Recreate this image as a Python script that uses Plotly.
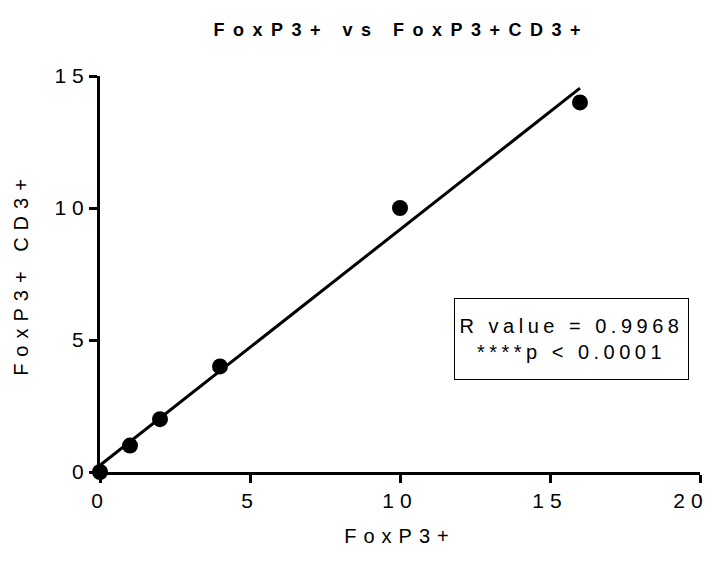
import numpy as np
import plotly.graph_objects as go

# Data
x_vals = [0, 1, 2, 4, 10, 16]
y_vals = [0, 1, 2, 4, 10, 14]
title_text = "FoxP3+ vs FoxP3+CD3+"
x_title = "FoxP3+"
y_title = "FoxP3+ CD3+"
r_value = "0.9968"
p_text = "****p &lt; 0.0001"
x_ticks = [0, 5, 10, 15, 20]
y_ticks = [0, 5, 10, 15]

slope, intercept = np.polyfit(x_vals, y_vals, 1)
fit_x = [min(x_vals), max(x_vals)]
fit_y = [slope * v + intercept for v in fit_x]

FONT = "Liberation Sans, Arial, sans-serif"

fig = go.Figure()
fig.add_trace(go.Scatter(x=fit_x, y=fit_y, mode="lines",
                         line=dict(color="black", width=3),
                         showlegend=False, hoverinfo="skip", cliponaxis=False))
fig.add_trace(go.Scatter(x=x_vals, y=y_vals, mode="markers",
                         marker=dict(color="black", size=16),
                         showlegend=False, cliponaxis=False))

fig.update_layout(
    width=711, height=562,
    margin=dict(l=100, r=11, t=76, b=90, autoexpand=False),
    plot_bgcolor="white", paper_bgcolor="white",
    font=dict(family=FONT, color="black", size=20),
    title=dict(text="<b>" + title_text + "</b>", xref="paper", x=0.502,
               xanchor="center", y=0.947, yanchor="middle",
               font=dict(family=FONT, size=18, color="black")),
    xaxis=dict(range=[0, 20], tickvals=x_ticks, showline=True, linewidth=3,
               linecolor="black", ticks="outside", ticklen=8, tickwidth=3,
               tickcolor="black", showgrid=False, zeroline=False,
               ticklabeloverflow="allow", automargin=False,
               tickfont=dict(size=21), title=dict(text=x_title, standoff=18,
                                                   font=dict(size=20))),
    yaxis=dict(range=[0, 15], tickvals=y_ticks, showline=True, linewidth=3,
               linecolor="black", ticks="outside", ticklen=8, tickwidth=3,
               tickcolor="black", showgrid=False, zeroline=False,
               ticklabeloverflow="allow", automargin=False,
               tickfont=dict(size=21), title=dict(text=y_title, standoff=28,
                                                   font=dict(size=20))),
    annotations=[dict(
        text="R value = " + r_value + "<br>" + p_text,
        xref="paper", yref="paper", x=0.785, y=0.336,
        xanchor="center", yanchor="middle", showarrow=False, align="center",
        width=225, height=72, borderpad=4, bordercolor="black", borderwidth=1,
        bgcolor="white", font=dict(size=20, family=FONT, color="black"))],
)

post = """
document.body.style.margin = '0';
document.body.style.padding = '0';
document.body.style.overflow = 'hidden';
var gd = document.getElementById('{plot_id}');
function ls(){
  var set = function(sel, v){ gd.querySelectorAll(sel).forEach(function(e){ e.style.letterSpacing = v; }); };
  set('.gtitle', '8.5px');
  set('.xtitle, .ytitle', '7px');
  set('.xtick text, .ytick text', '6px');
  set('.annotation-text', '4.5px');
  gd.querySelectorAll('.ytick text').forEach(function(e){ e.setAttribute('dx', '5'); });
  gd.querySelectorAll('.xtick text').forEach(function(e){
    if (e.textContent.trim() === '20') { e.setAttribute('dx', '-9'); }
  });
}
ls();
gd.on('plotly_afterplot', ls);
"""
fig.write_html("out.html", post_script=post, config={"displayModeBar": False})
